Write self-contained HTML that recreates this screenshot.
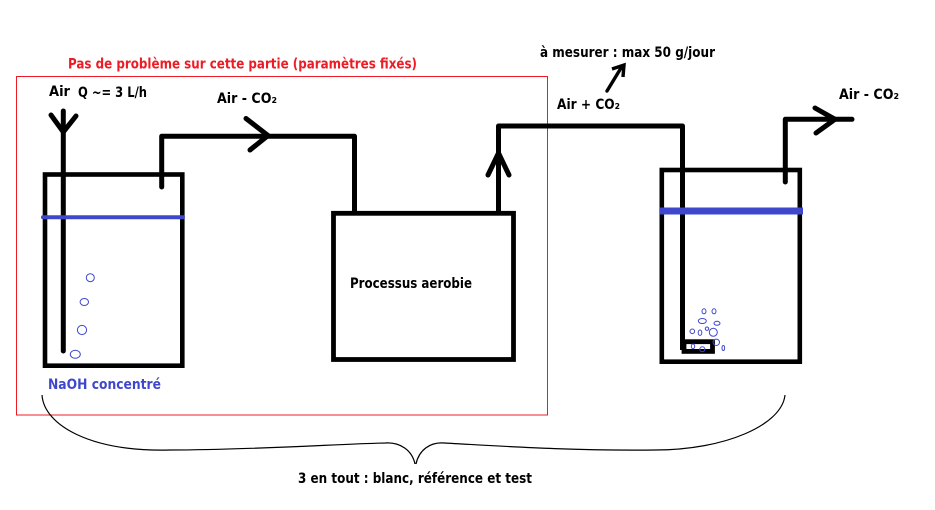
<!DOCTYPE html>
<html>
<head>
<meta charset="utf-8">
<style>
html,body{margin:0;padding:0;background:#fff;}
svg{display:block;}
text{font-family:"DejaVu Sans","Liberation Sans",sans-serif;font-weight:bold;font-size:14px;fill:#000;}
</style>
</head>
<body>
<svg width="935" height="510" viewBox="0 0 935 510" xmlns="http://www.w3.org/2000/svg">
<rect width="935" height="510" fill="#fff"/>
<!-- red box -->
<rect x="16.5" y="76.5" width="531" height="338.5" fill="none" stroke="#ed1c24" stroke-width="1"/>
<!-- brace -->
<g fill="none" stroke="#000" stroke-width="1.2">
<path d="M42 395 C44 425 90 452 170 450 C250 450 340 444 385 443 C400 442 412 450 415 464"/>
<path d="M416 464 C419 450 430 442 444 443 C500 446 570 451 655 450 C725 450 782 425 785 395"/>
</g>
<g fill="none" stroke="#000">
<!-- left tank -->
<rect x="45" y="174.5" width="137.3" height="191.2" stroke-width="4.6"/>
<path d="M63.3 111 V351" stroke-width="5" stroke-linecap="round"/>
<path d="M51 115 L63.3 132 L76 116" stroke-width="5" stroke-linecap="round"/>
<path d="M161.7 187 V136.3 H354.5 V212" stroke-width="5" stroke-linecap="round" stroke-linejoin="round"/>
<path d="M246 118.5 L268 135.5 L250 150" stroke-width="5" stroke-linecap="round"/>
<!-- process box -->
<rect x="333.5" y="213.3" width="180" height="146.2" stroke-width="4.8"/>
<path d="M498.5 212 V126 H682.5 V350" stroke-width="5" stroke-linejoin="round"/>
<path d="M488 175 L498.5 153 L509 175" stroke-width="5" stroke-linecap="round"/>
<!-- right tank -->
<rect x="661.8" y="170" width="138" height="191.7" stroke-width="4.6"/>
<rect x="684" y="341.7" width="28.5" height="9.7" fill="#fff" stroke-width="4.8"/>
<path d="M785.3 182 V119.3 H852" stroke-width="5" stroke-linecap="round" stroke-linejoin="round"/>
<path d="M815 108 L835 119.3 L816 133" stroke-width="5" stroke-linecap="round"/>
<!-- small arrow -->
<path d="M607 91 L621 68" stroke-width="3.4" stroke-linecap="round"/>
<path d="M612 69 L624 65 L623 77" stroke-width="3.4"/>
</g>
<!-- liquid lines -->
<path d="M43 217.3 H183" stroke="#3f48cc" stroke-width="4" stroke-linecap="round" fill="none"/>
<path d="M660 211 H803" stroke="#3f48cc" stroke-width="7" fill="none"/>
<!-- bubbles -->
<g fill="none" stroke="#3f48cc" stroke-width="1">
<circle cx="90.3" cy="277.7" r="4"/>
<ellipse cx="84.3" cy="302" rx="4.2" ry="3.5"/>
<circle cx="82" cy="330" r="4.6"/>
<ellipse cx="75.3" cy="354.3" rx="5" ry="4"/>
<ellipse cx="704" cy="311.3" rx="2" ry="2.5"/>
<ellipse cx="714" cy="311.3" rx="2" ry="2.5"/>
<ellipse cx="702.3" cy="321" rx="4" ry="2.5"/>
<ellipse cx="717" cy="323.3" rx="3" ry="2"/>
<circle cx="692.3" cy="331.3" r="2.3"/>
<ellipse cx="700" cy="332.7" rx="1.8" ry="2.7"/>
<circle cx="707" cy="328.7" r="1.7"/>
<circle cx="713.3" cy="332.3" r="4"/>
<circle cx="716.3" cy="342.3" r="3.2"/>
<ellipse cx="723.3" cy="348" rx="1.3" ry="2.5"/>
<ellipse cx="693" cy="346.3" rx="1.7" ry="2.3"/>
<circle cx="702.3" cy="349.3" r="2.5"/>
</g>
<!-- labels -->
<text x="68" y="68.5" textLength="349" lengthAdjust="spacingAndGlyphs" style="fill:#ed1c24">Pas de problème sur cette partie (paramètres fixés)</text>
<text x="49" y="96" textLength="21" lengthAdjust="spacingAndGlyphs">Air</text>
<text x="78" y="97" textLength="69" lengthAdjust="spacingAndGlyphs">Q ~= 3 L/h</text>
<text x="217" y="103" textLength="60" lengthAdjust="spacingAndGlyphs">Air - CO₂</text>
<text x="540" y="57" textLength="175" lengthAdjust="spacingAndGlyphs">à mesurer : max 50 g/jour</text>
<text x="557" y="109" textLength="63" lengthAdjust="spacingAndGlyphs">Air + CO₂</text>
<text x="839" y="99" textLength="60" lengthAdjust="spacingAndGlyphs">Air - CO₂</text>
<text x="350" y="288" textLength="122" lengthAdjust="spacingAndGlyphs">Processus aerobie</text>
<text x="48" y="389" textLength="113" lengthAdjust="spacingAndGlyphs" style="fill:#3f48cc">NaOH concentré</text>
<text x="298" y="483" textLength="234" lengthAdjust="spacingAndGlyphs">3 en tout : blanc, référence et test</text>
</svg>
</body>
</html>
